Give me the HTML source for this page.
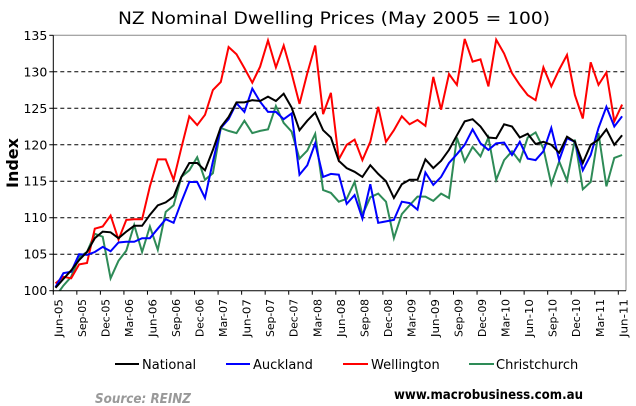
<!DOCTYPE html>
<html><head><meta charset="utf-8"><style>
body{margin:0;background:#fff}
svg{display:block;font-family:"DejaVu Sans","Liberation Sans",sans-serif}
</style></head><body>
<svg id="chart" width="636" height="406" viewBox="0 0 636 406" xmlns="http://www.w3.org/2000/svg">
<rect width="636" height="406" fill="#fff"/>
<text x="118" y="24" font-size="17" textLength="432" lengthAdjust="spacingAndGlyphs" fill="#000">NZ Nominal Dwelling Prices (May 2005  = 100)</text>
<text transform="translate(18,163) rotate(-90)" text-anchor="middle" font-size="16" font-weight="bold" fill="#000">Index</text>
<g id="grid"></g><g id="series"></g><g id="axes"></g>
<g font-size="13" fill="#000">
 <g><line x1="115" y1="364" x2="139" y2="364" stroke="#000" stroke-width="2"/><text x="142" y="369">National</text></g>
 <g><line x1="226" y1="364" x2="250" y2="364" stroke="#0000ff" stroke-width="2"/><text x="253" y="369">Auckland</text></g>
 <g><line x1="343" y1="364" x2="368" y2="364" stroke="#ff0000" stroke-width="2"/><text x="371" y="369">Wellington</text></g>
 <g><line x1="469" y1="364" x2="494" y2="364" stroke="#2e8b57" stroke-width="2"/><text x="496" y="369">Christchurch</text></g>
</g>
<text x="95" y="403" font-size="13" font-style="italic" font-weight="bold" fill="#999" textLength="96" lengthAdjust="spacingAndGlyphs">Source: REINZ</text>
<text x="394" y="399" font-size="13" font-weight="bold" fill="#000" textLength="189" lengthAdjust="spacingAndGlyphs">www.macrobusiness.com.au</text>
</svg>
<script>
const tickLabels=["Jun-05","Sep-05","Dec-05","Mar-06","Jun-06","Sep-06","Dec-06","Mar-07","Jun-07","Sep-07","Dec-07","Mar-08","Jun-08","Sep-08","Dec-08","Mar-09","Jun-09","Sep-09","Dec-09","Mar-10","Jun-10","Sep-10","Dec-10","Mar-11","Jun-11"];
const yTicks=[100,105,110,115,120,125,130,135];
const national=[100.4,101.6,102.8,104.2,105.3,107.2,108.1,108.0,107.2,108.1,108.9,108.9,110.4,111.7,112.1,112.9,115.6,117.5,117.5,116.5,119.3,122.4,123.8,125.8,125.8,126.1,126.0,126.6,126.0,127.0,125.1,122.0,123.3,124.4,122.0,121.0,117.8,116.8,116.3,115.6,117.2,116.0,115.0,112.7,114.6,115.2,115.2,118.0,116.8,117.8,119.3,121.3,123.2,123.5,122.5,121.0,120.9,122.8,122.5,121.0,121.5,120.1,120.4,120.0,118.9,121.1,120.4,117.5,120.0,120.7,122.1,120.0,121.3];
const auckland=[100.5,102.4,102.6,105.0,104.9,105.3,106.0,105.4,106.6,106.7,106.7,107.2,107.2,108.5,109.8,109.3,112.2,114.9,114.9,112.7,117.7,122.3,123.5,125.7,124.5,127.7,125.9,124.5,124.5,123.5,124.3,115.9,117.2,120.2,115.6,116.0,115.9,111.9,113.1,109.9,114.6,109.3,109.5,109.7,112.2,112.0,111.1,116.2,114.5,115.6,117.5,118.7,120.0,122.1,120.2,119.3,120.2,120.3,118.6,120.4,118.1,117.9,119.1,122.3,117.9,120.9,120.4,116.5,118.6,122.3,125.2,122.5,123.9];
const wellington=[101.0,101.9,101.7,103.6,103.8,108.5,108.8,110.3,107.0,109.7,109.8,109.8,114.3,118.0,118.0,115.2,119.6,123.9,122.7,124.1,127.5,128.6,133.4,132.4,130.5,128.5,130.7,134.3,130.6,133.6,129.8,125.6,129.8,133.6,124.2,127.1,118.0,120.0,120.7,117.9,120.4,125.2,120.4,122.0,123.9,122.8,123.4,122.6,129.3,124.8,129.7,128.2,134.5,131.4,131.7,128.0,134.4,132.5,129.8,128.2,126.8,126.1,130.6,128.0,130.3,132.3,126.8,123.6,131.3,128.2,129.9,123.2,125.5];
const christchurch=[99.2,100.7,101.9,104.6,105.3,107.8,107.4,101.7,104.1,105.5,109.0,105.3,108.8,105.6,110.8,111.7,115.6,116.5,118.3,115.2,116.1,122.3,121.9,121.6,123.3,121.6,121.9,122.1,125.3,123.0,121.8,118.1,119.2,121.5,113.8,113.4,112.2,112.6,114.9,110.4,112.8,113.3,112.2,107.2,110.5,111.7,112.9,112.9,112.3,113.3,112.7,121.0,117.7,119.7,118.4,121.0,115.2,117.9,119.1,117.7,121.0,121.7,119.5,114.6,117.7,115.1,120.7,113.9,114.9,121.6,114.3,118.2,118.6];

const NS="http://www.w3.org/2000/svg";
const L=53.3,R=626,T=35.3,B=290.7;
const yScale=v=>B-(v-100)/35*(B-T);
const tickX=i=>L+i*(618.3-L)/24;
const ptX=j=>55.5+j*7.87;
function mk(tag,attrs,parent){const e=document.createElementNS(NS,tag);for(const k in attrs)e.setAttribute(k,attrs[k]);parent.appendChild(e);return e;}
const grid=document.getElementById('grid'),axes=document.getElementById('axes'),ser=document.getElementById('series');
yTicks.forEach(v=>{
  const y=yScale(v);
  if(v>100&&v<135){const g=mk('line',{x1:L,x2:R,y1:y,y2:y,stroke:'#000','stroke-width':1,'stroke-dasharray':'4,3'},grid);
    
    }
  const tk=mk('line',{x1:L-4,x2:L,y1:y,y2:y,stroke:'#000'},axes);
  
  
  const t=mk('text',{x:L-6,y:y+4.5,'text-anchor':'end','font-size':12.5,fill:'#000'},axes);
  
  
  t.textContent=v;
});
mk('line',{x1:L,x2:R,y1:T,y2:T,stroke:'#888'},axes);
mk('line',{x1:R,x2:R,y1:T,y2:B,stroke:'#888'},axes);
const yax=mk('line',{x1:L,x2:L,y1:T,y2:B+1,stroke:'#000'},axes);


const xax=mk('line',{x1:L,x2:R,y1:B,y2:B,stroke:'#000'},axes);


tickLabels.forEach((lab,i)=>{
  const x=tickX(i);
  mk('line',{x1:x,x2:x,y1:B,y2:B+4,stroke:'#000'},axes);
  const t=mk('text',{transform:`translate(${x+9},337) rotate(-90)`,'font-size':11,fill:'#000',textLength:38,lengthAdjust:'spacingAndGlyphs'},axes);
  
  
  t.textContent=lab;
});
const clip=mk('clipPath',{id:'pc'},document.getElementById('chart'));
mk('rect',{x:L,y:T,width:R-L,height:B-T},clip);
[[christchurch,'#2e8b57','christchurch'],[wellington,'#ff0000','wellington'],[auckland,'#0000ff','auckland'],[national,'#000000','national']].forEach(([d,c,n])=>{
  const p=mk('polyline',{points:d.map((v,j)=>ptX(j).toFixed(1)+','+yScale(v).toFixed(1)).join(' '),fill:'none',stroke:c,'stroke-width':2,'stroke-linejoin':'miter','clip-path':'url(#pc)'},ser);
  
  
});
</script>
</body></html>
